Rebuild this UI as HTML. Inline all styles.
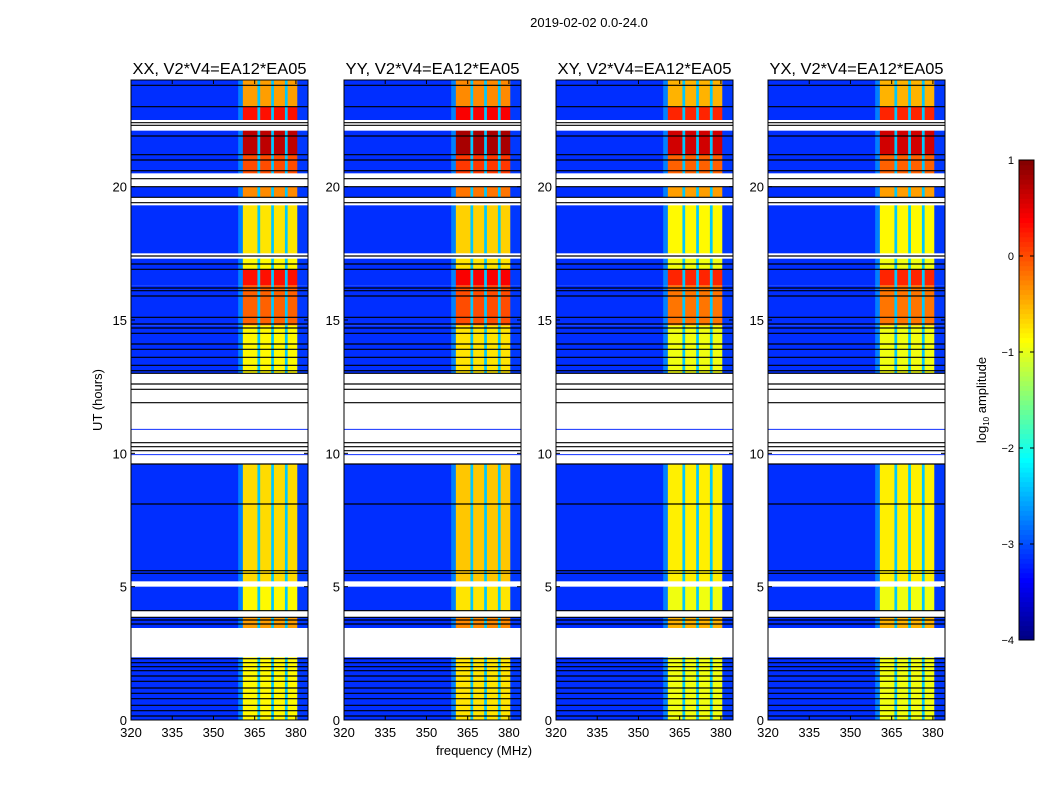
<!DOCTYPE html>
<html><head><meta charset="utf-8">
<style>
body{margin:0;background:#fff;}
svg text{font-family:"Liberation Sans",sans-serif;fill:#000;}
</style></head>
<body>
<svg id="fig" width="1050" height="800" xmlns="http://www.w3.org/2000/svg">
<rect width="1050" height="800" fill="#fff"/>
<text x="589" y="27" font-size="13" text-anchor="middle">2019-02-02 0.0-24.0</text>
<text transform="translate(102,400) rotate(-90)" font-size="13" text-anchor="middle">UT (hours)</text>
<text x="484" y="755" font-size="13" text-anchor="middle">frequency (MHz)</text>
<g id="panels"></g>
<g id="cbar"></g>
</svg>
<script>
// ---- data ----
const panelTitles = ["XX, V2*V4=EA12*EA05","YY, V2*V4=EA12*EA05","XY, V2*V4=EA12*EA05","YX, V2*V4=EA12*EA05"];
const panelOffsets = [0.0, 0.1, -0.1, -0.1];
// frequency bands: start MHz, end MHz
const bandStart = [320, 359, 360.7, 366, 367, 371, 372, 376, 377, 380.5];
const bandEnd   = [359, 360.7, 366, 367, 371, 372, 376, 377, 380.5, 384.4];
// 1 = RFI band (follows segment level), 0 = background
const bandIsRfi = [0, 0, 1, 0, 1, 0, 1, 0, 1, 0];
const bandBase  = [-3.15, -2.75, 0, -2.4, 0, -2.4, 0, -2.4, 0, -3.1];
// time segments (hours) with RFI level (log10 amplitude)
const segStart = [0.0, 3.45, 4.1, 5.2, 13.0, 14.8, 16.3, 16.9, 17.5, 19.6, 20.5, 21.2, 22.5, 23.0];
const segEnd   = [2.35, 3.85, 5.0, 9.6, 14.8, 16.3, 16.9, 17.3, 19.3, 20.0, 21.2, 22.1, 23.0, 24.0];
const segLevel = [-0.85, -0.4, -0.85, -0.7, -0.85, -0.1, 0.3, -0.85, -0.75, -0.3, 0.0, 0.7, 0.3, -0.4];
// thin lines in flagged regions
const blueLines = [9.95, 10.9];
const blackLines = [0.15,0.35,0.55,0.8,1.0,1.2,1.45,1.65,1.85,2.0,2.15,2.3,3.6,3.75,3.85,4.1,5.5,5.6,8.1,9.6,10.1,10.25,10.4,11.9,12.4,12.6,13.0,13.1,13.3,13.6,13.9,14.1,14.5,14.7,14.85,15.1,15.9,16.1,16.2,16.9,17.1,17.4,19.4,19.6,20.0,20.3,20.6,21.0,21.2,21.9,22.3,22.4,23.0,23.8];
const xTicks = [320, 335, 350, 365, 380];
const yTicks = [0, 5, 10, 15, 20];
const cbTicks = [1, 0, -1, -2, -3, -4];
const cbLabels = ["1","0","\u22121","\u22122","\u22123","\u22124"];

// ---- helpers ----
const NS = "http://www.w3.org/2000/svg";
function jet(v){ // v in [-4,1]
  let t = Math.max(0, Math.min(1, (v + 4) / 5));
  const r = Math.max(0, Math.min(1, Math.min(4*t-1.5, -4*t+4.5)));
  const g = Math.max(0, Math.min(1, Math.min(4*t-0.5, -4*t+3.5)));
  const b = Math.max(0, Math.min(1, Math.min(4*t+0.5, -4*t+2.5)));
  return `rgb(${Math.round(r*255)},${Math.round(g*255)},${Math.round(b*255)})`;
}
function mk(tag, attrs, parent){
  const e = document.createElementNS(NS, tag);
  for (const k in attrs) e.setAttribute(k, attrs[k]);
  parent.appendChild(e); return e;
}
const panelsG = document.getElementById("panels");
const panelLeft = [131, 344, 556, 768];
const PW = 177, TOP = 80, BOT = 720;
const xMin = 320, xMax = 384.4, yMin = 0, yMax = 24;

panelTitles.forEach((title, p) => {
  const L = panelLeft[p];
  const xs = f => L + (f - xMin) / (xMax - xMin) * PW;
  const ys = h => BOT - (h - yMin) / (yMax - yMin) * (BOT - TOP);
  const g = mk("g", {}, panelsG);
  
  
  for (let s = 0; s < segStart.length; s++) {
    for (let b = 0; b < bandStart.length; b++) {
      const v = bandIsRfi[b] ? segLevel[s] + panelOffsets[p] : bandBase[b];
      const x0 = xs(bandStart[b]), x1 = xs(bandEnd[b]);
      const y0 = ys(segEnd[s]), y1 = ys(segStart[s]);
      const r = mk("rect", {x: x0, y: y0, width: x1 - x0 + 0.3, height: y1 - y0, fill: jet(v)}, g);
      
      
    }
  }
  blueLines.forEach(h => {
    const l = mk("line", {x1: L, x2: L + PW, y1: ys(h), y2: ys(h), stroke: "#1030ff", "stroke-width": 1}, g);
    
    
  });
  blackLines.forEach(h => {
    const l = mk("line", {x1: L, x2: L + PW, y1: ys(h), y2: ys(h), stroke: "#000", "stroke-width": 1.2}, g);
    
    
  });
  const fr = mk("rect", {x: L, y: TOP, width: PW, height: BOT - TOP, fill: "none", stroke: "#000", "stroke-width": 1}, g);
  
  
  const t = mk("text", {x: L + PW/2, y: TOP - 6, "font-size": 16, "text-anchor": "middle", textLength: 174, lengthAdjust: "spacingAndGlyphs"}, g);
  t.textContent = title;
  
  
  xTicks.forEach(v => {
    const x = xs(v);
    mk("line", {x1: x, x2: x, y1: BOT, y2: BOT - 4, stroke: "#000"}, g);
    mk("line", {x1: x, x2: x, y1: TOP, y2: TOP + 4, stroke: "#000"}, g);
    const tx = mk("text", {x: x, y: BOT + 17, "font-size": 13, "text-anchor": "middle"}, g);
    tx.textContent = v;
    
    
  });
  yTicks.forEach(v => {
    const y = ys(v);
    mk("line", {x1: L, x2: L + 4, y1: y, y2: y, stroke: "#000"}, g);
    mk("line", {x1: L + PW, x2: L + PW - 4, y1: y, y2: y, stroke: "#000"}, g);
    const ty = mk("text", {x: L - 4, y: y + 5, "font-size": 13, "text-anchor": "end"}, g);
    ty.textContent = v;
    
    
  });
});

// colorbar
const cb = document.getElementById("cbar");
const CX = 1019, CW = 15, CT = 160, CB = 640;
const cys = v => CB - (v + 4) / 5 * (CB - CT);
for (let i = 0; i < 100; i++) {
  const v0 = -4 + i * 0.05;
  const r = mk("rect", {x: CX, y: cys(v0 + 0.05), width: CW, height: (CB - CT) / 100 + 0.5, fill: jet(v0 + 0.025)}, cb);
  
  
}
mk("rect", {x: CX, y: CT, width: CW, height: CB - CT, fill: "none", stroke: "#000"}, cb);
cbTicks.forEach((v, i) => {
  const y = cys(v);
  mk("line", {x1: CX, x2: CX + 4, y1: y, y2: y, stroke: "#000"}, cb);
  mk("line", {x1: CX + CW, x2: CX + CW - 4, y1: y, y2: y, stroke: "#000"}, cb);
  const t = mk("text", {x: CX - 5, y: y + 4, "font-size": 11, "text-anchor": "end"}, cb);
  t.textContent = cbLabels[i];
  
  
});
const cl = mk("text", {transform: "translate(986,400) rotate(-90)", "font-size": 13, "text-anchor": "middle"}, cb);
cl.innerHTML = 'log<tspan font-size="8" dy="3">10</tspan><tspan dy="-3"> amplitude</tspan>';


</script>
</body></html>
